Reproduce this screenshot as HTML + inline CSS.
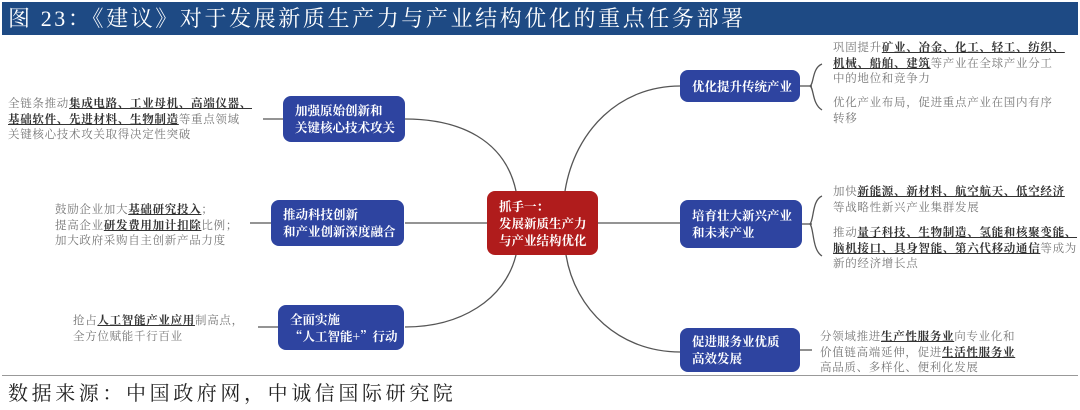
<!DOCTYPE html>
<html><head><meta charset="utf-8"><style>
html,body{margin:0;padding:0;background:#fff;}
body{width:1080px;height:410px;position:relative;overflow:hidden;font-family:"Liberation Serif","Noto Serif CJK SC","Noto Sans CJK SC",serif;}
.title{position:absolute;left:2px;top:2px;width:1076px;height:33px;background:#1e4a84;color:#fff;font-size:22px;letter-spacing:2.6px;line-height:33px;padding-left:6px;box-sizing:border-box;white-space:nowrap;}
.src{position:absolute;left:8px;top:377px;font-size:20px;letter-spacing:3.6px;color:#222;white-space:nowrap;}
.line{position:absolute;left:2px;top:375px;width:1076px;height:1px;background:#999;}
.box{position:absolute;background:#2e44a0;color:#fff;border-radius:8px;font-size:12.5px;font-weight:bold;line-height:17px;box-sizing:border-box;display:flex;align-items:center;font-family:"Noto Serif CJK SC","Noto Sans CJK SC",serif;white-space:nowrap;}
.red{background:#b01c1c;}
.t{position:absolute;font-size:11.5px;letter-spacing:0.7px;line-height:15.5px;color:#777;font-family:"Noto Serif CJK SC","Noto Sans CJK SC",serif;white-space:nowrap;}
.t b{color:#333;text-decoration:underline;}
</style></head><body>
<div class="title">图 23：《建议》对于发展新质生产力与产业结构优化的重点任务部署</div>
<svg width="1080" height="410" style="position:absolute;left:0;top:0">
<g stroke="#555" stroke-width="1.3" fill="none">
<path d="M516 191 C505 140 460 119 405 119"/>
<path d="M405 223 H487"/>
<path d="M516 255 C505 300 460 327 405 327"/>
<path d="M565 191 C575 130 620 86 680 86"/>
<path d="M598 223 H680"/>
<path d="M566 255 C575 310 620 352 680 352"/>
<path d="M263 119 H283"/><path d="M250 223 H271"/><path d="M258 327 H278"/>
<path d="M802 224 H812"/><path d="M800 86 H812"/><path d="M800 350 H812"/>
<path d="M822 64 C812 68 814 84 810 86 C814 88 812 104 822 110"/>
<path d="M822 196 C812 200 814 220 810 224 C814 228 812 250 822 256"/>
</g></svg>
<div class="box" style="left:283px;top:96px;width:122px;height:46px;padding-left:12px">加强原始创新和<br>关键核心技术攻关</div>
<div class="box" style="left:271px;top:200px;width:133px;height:46px;padding-left:12px">推动科技创新<br>和产业创新深度融合</div>
<div class="box" style="left:278px;top:305px;width:126px;height:45px;padding-left:12px">全面实施<br>“人工智能+”行动</div>
<div class="box red" style="left:487px;top:191px;width:111px;height:64px;padding-left:12px">抓手一：<br>发展新质生产力<br>与产业结构优化</div>
<div class="box" style="left:680px;top:70px;width:120px;height:32px;padding-left:12px">优化提升传统产业</div>
<div class="box" style="left:680px;top:200px;width:122px;height:48px;padding-left:12px">培育壮大新兴产业<br>和未来产业</div>
<div class="box" style="left:680px;top:328px;width:120px;height:44px;padding-left:12px">促进服务业优质<br>高效发展</div>
<div class="t" style="left:8px;top:96px">全链条推动<b>集成电路、工业母机、高端仪器、</b><br><b>基础软件、先进材料、生物制造</b>等重点领域<br>关键核心技术攻关取得决定性突破</div>
<div class="t" style="left:55px;top:202px">鼓励企业加大<b>基础研究投入</b>；<br>提高企业<b>研发费用加计扣除</b>比例；<br>加大政府采购自主创新产品力度</div>
<div class="t" style="left:73px;top:313px">抢占<b>人工智能产业应用</b>制高点，<br>全方位赋能千行百业</div>
<div class="t" style="left:833px;top:40px">巩固提升<b>矿业、冶金、化工、轻工、纺织、</b><br><b>机械、船舶、建筑</b>等产业在全球产业分工<br>中的地位和竞争力</div>
<div class="t" style="left:833px;top:95px">优化产业布局，促进重点产业在国内有序<br>转移</div>
<div class="t" style="left:833px;top:184px">加快<b>新能源、新材料、航空航天、低空经济</b><br>等战略性新兴产业集群发展</div>
<div class="t" style="left:833px;top:225px">推动<b>量子科技、生物制造、氢能和核聚变能、</b><br><b>脑机接口、具身智能、第六代移动通信</b>等成为<br>新的经济增长点</div>
<div class="t" style="left:820px;top:329px">分领域推进<b>生产性服务业</b>向专业化和<br>价值链高端延伸，促进<b>生活性服务业</b><br>高品质、多样化、便利化发展</div>
<div class="line"></div>
<div class="src">数据来源：中国政府网，中诚信国际研究院</div>
</body></html>
